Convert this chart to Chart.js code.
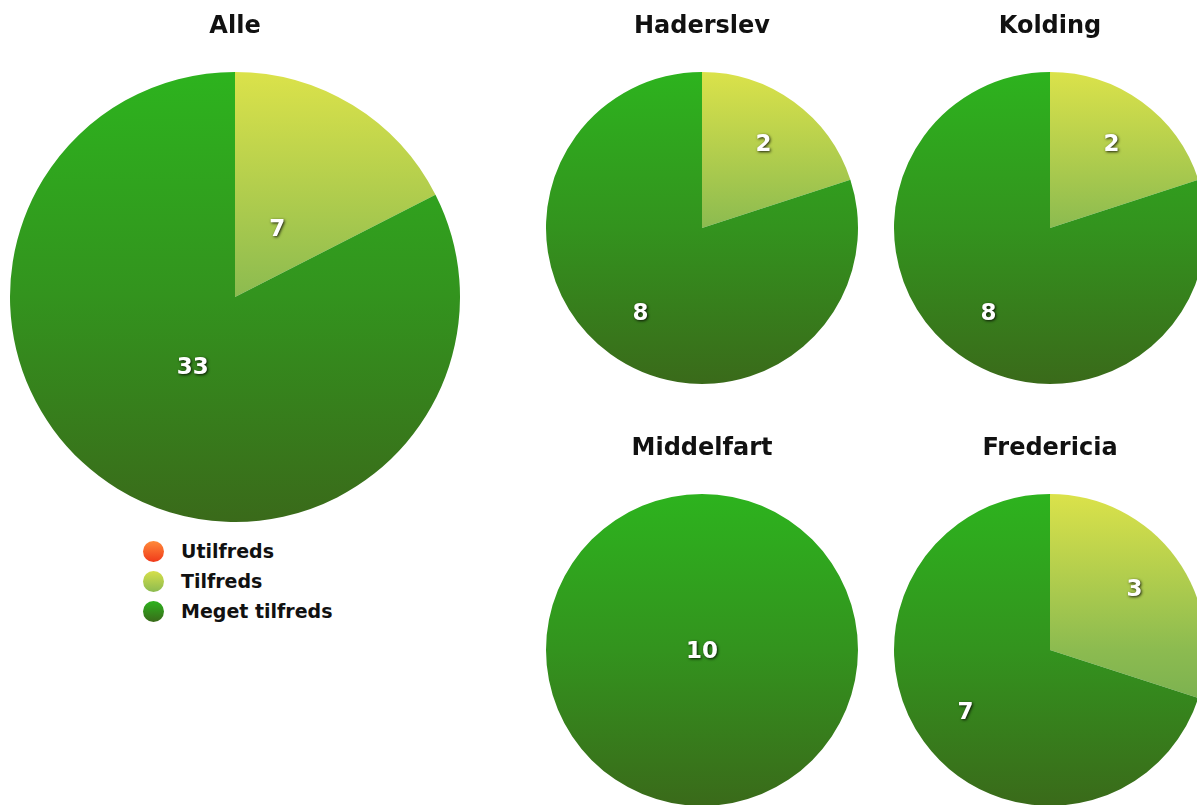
<!DOCTYPE html>
<html>
<head>
<meta charset="utf-8">
<script src="https://cdn.jsdelivr.net/npm/chart.js@4/dist/chart.umd.min.js"></script>
<style>
  html, body { margin: 0; padding: 0; background: #fff; width: 1197px; height: 805px; overflow: hidden; position: relative; }
  .box { position: absolute; }
  .legend { position: absolute; left: 143px; top: 536px; font-family: "DejaVu Sans", sans-serif; font-weight: bold; font-size: 19px; color: #111; }
  .legend div { height: 30px; line-height: 30px; position: relative; padding-left: 38px; white-space: nowrap; }
  .legend span { position: absolute; left: 0; top: 5px; width: 21px; height: 21px; border-radius: 50%; }
</style>
</head>
<body>
<div class="box" style="left:10px;top:0px;width:450px;height:522px"><canvas id="c0"></canvas></div>
<div class="box" style="left:546px;top:0px;width:312px;height:384px"><canvas id="c1"></canvas></div>
<div class="box" style="left:894px;top:0px;width:312px;height:384px"><canvas id="c2"></canvas></div>
<div class="box" style="left:546px;top:422px;width:312px;height:384px"><canvas id="c3"></canvas></div>
<div class="box" style="left:894px;top:422px;width:312px;height:384px"><canvas id="c4"></canvas></div>
<div class="legend" id="legend"></div>
<script>
// ---- data ----
const categories = ["Utilfreds", "Tilfreds", "Meget tilfreds"];
const chartTitles = ["Alle", "Haderslev", "Kolding", "Middelfart", "Fredericia"];
const alleValues = [0, 7, 33];
const haderslevValues = [0, 2, 8];
const koldingValues = [0, 2, 8];
const middelfartValues = [0, 0, 10];
const fredericiaValues = [0, 3, 7];
const seriesValues = [alleValues, haderslevValues, koldingValues, middelfartValues, fredericiaValues];

// ---- styles ----
const gradientStops = [
  [[0, "#ff8a3a"], [0.5, "#ff6a2a"], [1, "#f03a1a"]],
  [[0, "#dbe24a"], [0.5, "#8cbb50"], [1, "#5a9e50"]],
  [[0, "#2db31e"], [0.5, "#33931e"], [1, "#3a6a1a"]]
];
const labelRadiusFactor = [0.36, 0.67, 0.67, 0.67, 0.67];
const FONT = '"DejaVu Sans", sans-serif';

function makeGradient(chart, stops) {
  const area = chart.chartArea;
  if (!area) return stops[1][1];
  const ctx = chart.ctx;
  const g = ctx.createLinearGradient(0, area.top, 0, area.bottom);
  stops.forEach(s => g.addColorStop(s[0], s[1]));
  return g;
}

const valueLabels = {
  id: 'valueLabels',
  afterDatasetsDraw(chart, args, opts) {
    const ctx = chart.ctx;
    const meta = chart.getDatasetMeta(0);
    const data = chart.data.datasets[0].data;
    ctx.save();
    ctx.font = 'bold 23px ' + FONT;
    ctx.textAlign = 'center';
    ctx.textBaseline = 'middle';
    meta.data.forEach((arc, i) => {
      const v = data[i];
      if (!v) return;
      const p = arc.getProps(['x', 'y', 'startAngle', 'endAngle', 'outerRadius'], true);
      const full = (p.endAngle - p.startAngle) >= Math.PI * 2 - 1e-6;
      const mid = (p.startAngle + p.endAngle) / 2;
      const r = full ? 0 : p.outerRadius * opts.factor;
      const x = p.x + Math.cos(mid) * r;
      const y = p.y + Math.sin(mid) * r + 2;
      ctx.shadowColor = 'rgba(0,0,0,0.85)';
      ctx.shadowBlur = 3;
      ctx.shadowOffsetX = 1;
      ctx.shadowOffsetY = 1;
      ctx.fillStyle = '#ffffff';
      ctx.fillText(String(v), x, y);
    });
    ctx.restore();
  }
};

seriesValues.forEach((vals, idx) => {
  new Chart(document.getElementById('c' + idx), {
    type: 'pie',
    data: {
      labels: categories,
      datasets: [{
        data: vals,
        backgroundColor: (c) => makeGradient(c.chart, gradientStops[c.dataIndex]),
        borderWidth: 0
      }]
    },
    options: {
      responsive: true,
      maintainAspectRatio: false,
      animation: false,
      layout: { padding: 0 },
      plugins: {
        legend: { display: false },
        tooltip: { enabled: false },
        title: {
          display: true,
          text: chartTitles[idx],
          color: '#111',
          font: { family: FONT, size: 24, weight: 'bold', lineHeight: 1.2 },
          padding: { top: 12, bottom: 31 }
        },
        valueLabels: { factor: labelRadiusFactor[idx] }
      }
    },
    plugins: [valueLabels]
  });
});

// legend
const legendEl = document.getElementById('legend');
const cssGrad = [
  "linear-gradient(#ff8a3a, #f03a1a)",
  "linear-gradient(#d6df4a, #8cbb50)",
  "linear-gradient(#2db31e, #3a6a1a)"
];
categories.forEach((c, i) => {
  const row = document.createElement('div');
  const dot = document.createElement('span');
  dot.style.background = cssGrad[i];
  row.appendChild(dot);
  row.appendChild(document.createTextNode(c));
  legendEl.appendChild(row);
});
</script>
</body>
</html>
